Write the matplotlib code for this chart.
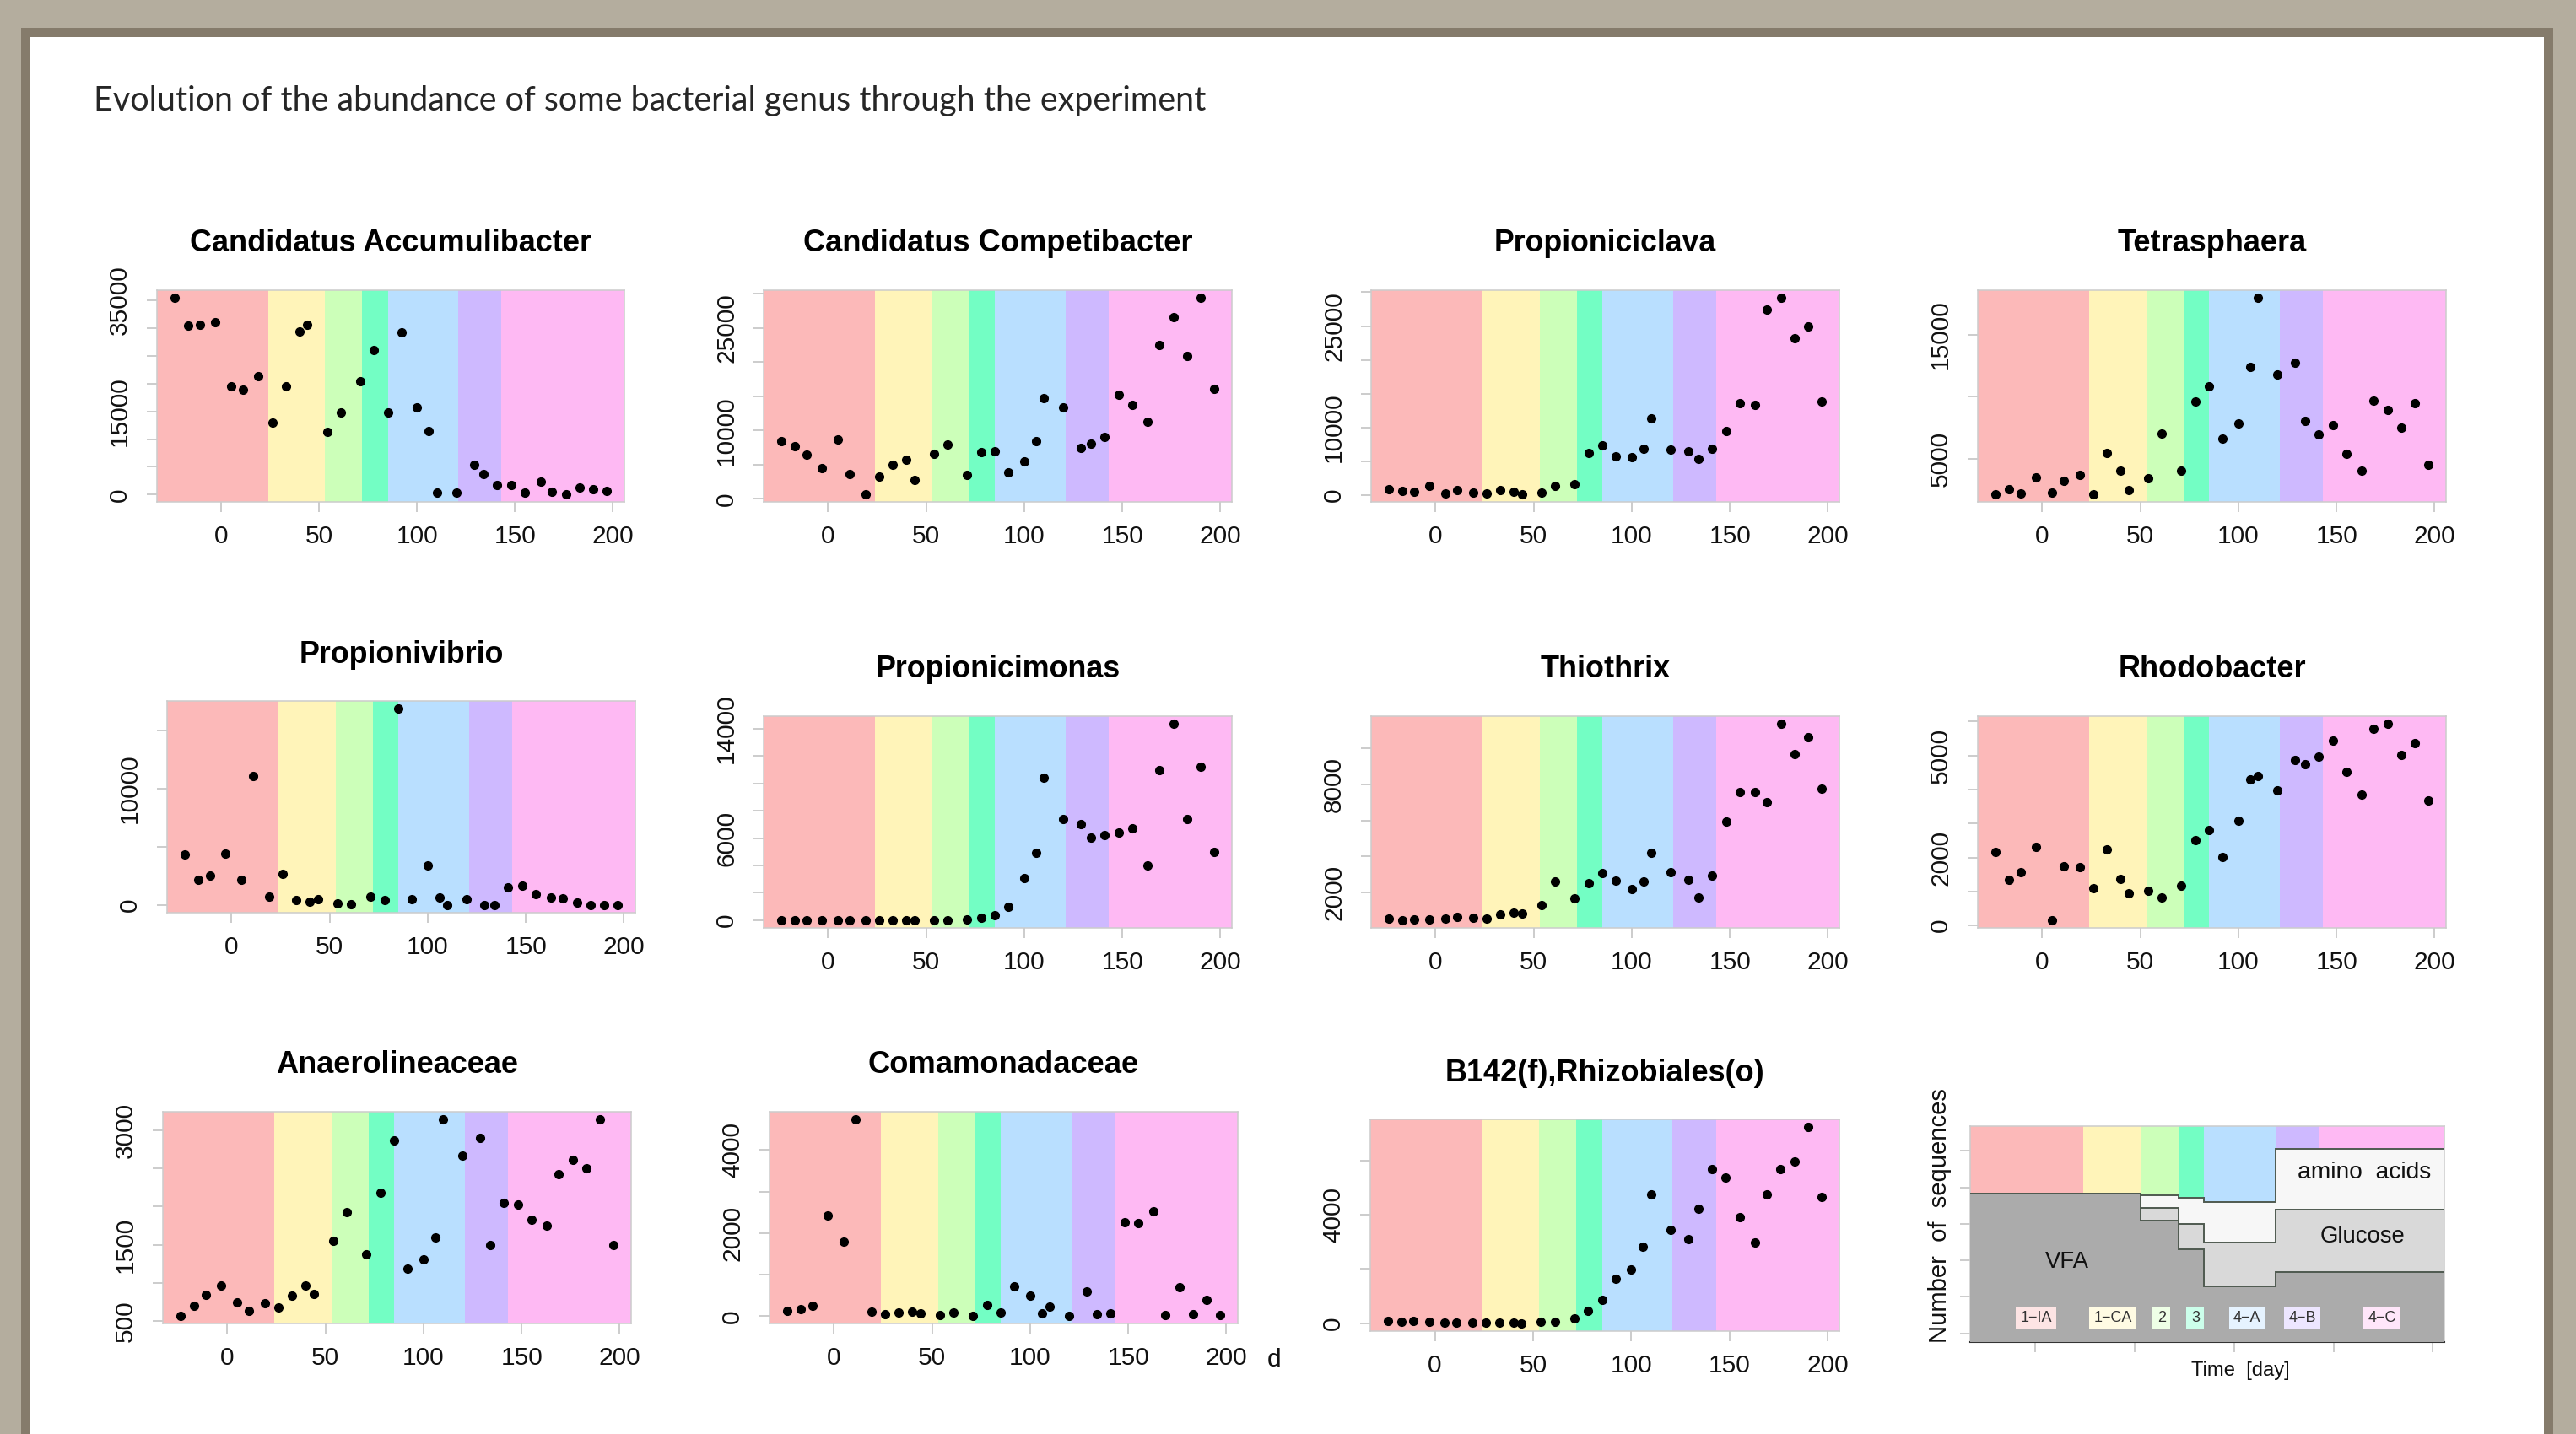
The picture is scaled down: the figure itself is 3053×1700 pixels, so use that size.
import numpy as np
import matplotlib
matplotlib.use('Agg')
import matplotlib.pyplot as plt
from matplotlib.patches import Rectangle

W, H = 3053, 1700

# sampling days (same for every genus)
days = [-24, -17, -11, -3, 5, 11, 19, 26, 33, 40, 44, 54, 61, 71, 78, 85,
        92, 100, 106, 110, 120, 129, 134, 141, 148, 155, 163, 169, 176, 183, 190, 197]

# experimental phases
phase_bounds = [24, 53, 72, 85, 121, 143]
phase_names = ['1\u2212IA', '1\u2212CA', '2', '3', '4\u2212A', '4\u2212B', '4\u2212C']
phase_colors = ['#FCB9B9', '#FFF4B9', '#CCFFB9', '#73FEC4', '#B9DFFF', '#CEB9FF', '#FEB9F3']
phase_label_colors = ['#FDE4E4', '#FFFBE3', '#EEFFE6', '#CCFFEB', '#E6F3FF', '#EDE6FF', '#FFE6FA']
phase_label_x = [0.4, 39, 63.5, 80.5, 106.6, 134.3, 174.4]

# number of sequences per genus
accumulibacter = [35400, 30430, 30640, 31100, 19530, 18920, 21300, 13040, 19430, 29420, 30540,
                  11310, 14860, 20440, 26020, 14810, 29170, 15720, 11460, 350, 350, 5330, 3650,
                  1780, 1780, 350, 2280, 460, 100, 1270, 910, 660]
competibacter = [8440, 7700, 6500, 4530, 8640, 3620, 700, 3290, 4940, 5680, 2760, 6580, 7980,
                 3460, 6790, 6950, 3830, 5510, 8440, 14730, 13330, 7410, 8020, 9050, 15190,
                 13700, 11280, 22470, 26540, 20910, 29380, 16090]
propioniciclava = [910, 620, 540, 1410, 250, 790, 370, 250, 750, 540, 170, 370, 1410, 1660,
                   6230, 7400, 5740, 5650, 6900, 11350, 6770, 6530, 5400, 6900, 9520, 13550,
                   13380, 27430, 29140, 23150, 24900, 13880]
tetrasphaera = [2140, 2550, 2200, 3450, 2230, 3180, 3660, 2140, 5430, 4050, 2430, 3430, 7020,
                4000, 9640, 10820, 6610, 7860, 12390, 17980, 11800, 12730, 8020, 6980, 7730,
                5360, 4020, 9680, 8950, 7520, 9450, 4480]
propionivibrio = [4310, 2150, 2540, 4400, 2180, 11050, 730, 2660, 440, 310, 510, 150, 30, 730,
                  440, 16840, 530, 3410, 630, 20, 460, 20, 20, 1500, 1640, 900, 630, 560, 190,
                  20, 10, 20]
propionicimonas = [0, 0, 0, 0, 0, 0, 0, 0, 0, 0, 0, 0, 10, 60, 160, 350, 970, 3090, 4930,
                   10390, 7420, 7010, 6060, 6210, 6410, 6740, 3980, 10970, 14350, 7420, 11240, 4970]
thiothrix = [570, 490, 520, 520, 570, 650, 620, 580, 820, 900, 850, 1300, 2610, 1690, 2530,
             3090, 2670, 2190, 2610, 4220, 3140, 2700, 1720, 2940, 5940, 7550, 7580, 7010,
             11330, 9660, 10610, 7750]
rhodobacter = [2160, 1350, 1560, 2320, 160, 1740, 1720, 1100, 2230, 1380, 950, 1010, 830, 1170,
               2510, 2800, 2020, 3090, 4300, 4410, 3980, 4870, 4750, 4970, 5440, 4520, 3840,
               5800, 5930, 5010, 5370, 3680]
anaerolineaceae = [567, 696, 840, 959, 740, 633, 726, 674, 825, 966, 851, 1554, 1931, 1373,
                   2186, 2870, 1180, 1306, 1591, 3144, 2671, 2904, 1491, 2053, 2027, 1824, 1750,
                   2427, 2619, 2501, 3144, 1499]
comamonadaceae = [129, 169, 257, 2417, 1787, 4733, 102, 41, 88, 115, 74, 34, 88, 14, 264, 81,
                  711, 487, 68, 223, 14, 596, 54, 61, 2261, 2234, 2519, 27, 691, 41, 399, 34]
b142 = [73, 52, 73, 42, 21, 21, 31, 10, 21, 31, 0, 42, 42, 176, 467, 851, 1630, 1993, 2833,
        4743, 3456, 3093, 4224, 5698, 5387, 3913, 2989, 4743, 5698, 5958, 7234, 4660]

# substrate composition (schematic panel)
substrate_changes = [53, 72, 85, 121]
vfa_level = [3.84, 3.09, 2.30, 1.28, 1.69]
glucose_level = [3.84, 3.43, 2.99, 2.48, 3.38]
amino_level = [3.84, 3.79, 3.72, 3.61, 5.06]

# (title, values, y ticks, labelled y ticks)
panels = [
    ("Candidatus Accumulibacter", accumulibacter, range(0, 35001, 5000), [0, 15000, 35000]),
    ("Candidatus Competibacter", competibacter, range(0, 30001, 5000), [0, 10000, 25000]),
    ("Propioniciclava", propioniciclava, range(0, 30001, 5000), [0, 10000, 25000]),
    ("Tetrasphaera", tetrasphaera, range(5000, 15001, 5000), [5000, 15000]),
    ("Propionivibrio", propionivibrio, range(0, 15001, 5000), [0, 10000]),
    ("Propionicimonas", propionicimonas, range(0, 14001, 2000), [0, 6000, 14000]),
    ("Thiothrix", thiothrix, range(2000, 10001, 2000), [2000, 8000]),
    ("Rhodobacter", rhodobacter, range(0, 6001, 1000), [0, 2000, 5000]),
    ("Anaerolineaceae", anaerolineaceae, range(500, 3001, 500), [500, 1500, 3000]),
    ("Comamonadaceae", comamonadaceae, range(0, 4001, 1000), [0, 2000, 4000]),
    ("B142(f),Rhizobiales(o)", b142, range(0, 6001, 2000), [0, 4000]),
]

# layout in pixels: axes box (x0, y0, x1, y1), title centre y, title width
boxes = [(186, 344, 740, 595), (905, 344, 1460, 595), (1625, 344, 2180, 595), (2344, 344, 2899, 595),
         (198, 831, 753, 1082), (905, 849, 1460, 1100), (1625, 849, 2180, 1100), (2344, 849, 2899, 1100),
         (193, 1318, 748, 1569), (912, 1318, 1467, 1569), (1624, 1327, 2180, 1578)]
title_y = [289, 289, 289, 289, 777, 793, 793, 793, 1263, 1263, 1273]
title_w = [477, 461, 263, 224, 243, 291, 154, 223, 287, 321, 379]

FONT = 'Liberation Sans'


def fbox(x0, y0, x1, y1):
    return [x0 / W, 1 - y1 / H, (x1 - x0) / W, (y1 - y0) / H]


def rlim(v):
    lo, hi = min(v), max(v)
    r = hi - lo
    return lo - 0.04 * r, hi + 0.04 * r


xlo, xhi = rlim(days)
band_edges = [xlo] + phase_bounds + [xhi]

fig = plt.figure(figsize=(W / 100, H / 100), dpi=100)
fig.patch.set_facecolor('#B4AD9E')
fig.patches.append(Rectangle((25 / W, 0), (3026 - 25) / W, 1 - 33 / H, transform=fig.transFigure,
                             fc='#857B6B', ec='none', zorder=-3))
fig.patches.append(Rectangle((35 / W, 0), (3015 - 35) / W, 1 - 44 / H, transform=fig.transFigure,
                             fc='white', ec='none', zorder=-2))

renderer = fig.canvas.get_renderer()


def fit(txt, target, vertical=False):
    bb = txt.get_window_extent(renderer)
    size = bb.height if vertical else bb.width
    txt.set_fontsize(txt.get_fontsize() * target / size)


def style_axes(ax):
    for s in ax.spines.values():
        s.set_color('#CCCCCC')
        s.set_linewidth(1.1)
    ax.tick_params(color='#C8C8C8', width=1.3, length=8.5, labelcolor='#111111')
    ax.set_xlim(xlo, xhi)
    for i, c in enumerate(phase_colors):
        ax.axvspan(band_edges[i], band_edges[i + 1], color=c, lw=0, zorder=0)


t = fig.text(111 / W, 1 - 119 / H,
             "Evolution of the abundance of some bacterial genus through the experiment",
             ha='left', va='center', fontfamily='Lato', fontsize=24, color='#262626')
fit(t, 1322)

for (name, vals, yt, shown), b, ty, tw in zip(panels, boxes, title_y, title_w):
    ax = fig.add_axes(fbox(*b))
    style_axes(ax)
    ax.plot(days, vals, ls='none', marker='o', ms=7, color='black', zorder=3)
    ax.set_ylim(*rlim(vals))
    ax.set_xticks([0, 50, 100, 150, 200])
    ax.set_xticklabels(['0', '50', '100', '150', '200'], fontfamily=FONT, fontsize=21.5)
    ax.set_yticks(list(yt))
    ax.set_yticklabels([str(v) if v in shown else '' for v in yt], rotation=90, va='center',
                       fontfamily=FONT, fontsize=21.5)
    ax.tick_params(axis='x', pad=11)
    ax.tick_params(axis='y', pad=13)
    t = fig.text((b[0] + b[2]) / 2 / W, 1 - ty / H, name, ha='center', va='center',
                 fontfamily=FONT, fontweight='bold', fontsize=26, color='black')
    fit(t, tw)

fig.text(1510 / W, 1 - 1612 / H, 'd', ha='center', va='center', fontfamily=FONT,
         fontsize=21.5, color='#111111')

# substrate legend panel
ax = fig.add_axes(fbox(2335, 1335, 2897, 1591))
style_axes(ax)
ybot = -0.24
sub_edges = [xlo] + substrate_changes + [xhi]
ax.stairs(amino_level, sub_edges, baseline=ybot, fill=True, color='#F7F7F7', zorder=1)
ax.stairs(glucose_level, sub_edges, baseline=ybot, fill=True, color='#D9D9D9', zorder=2)
ax.stairs(vfa_level, sub_edges, baseline=ybot, fill=True, color='#ABABAB', zorder=3)
for lv in (amino_level, glucose_level, vfa_level):
    ax.stairs(lv, sub_edges, baseline=None, color='#4F5A50', lw=1.4, zorder=4)
ax.set_ylim(ybot, 5.68)
ax.set_xticks([0, 50, 100, 150, 200])
ax.set_yticks(range(6))
ax.tick_params(labelleft=False, labelbottom=False)
ax.spines['bottom'].set_color('#333333')
ax.spines['bottom'].set_linewidth(1.5)

for name, x, lc in zip(phase_names, phase_label_x, phase_label_colors):
    ax.text(x, 0.42, name, ha='center', va='center', fontfamily=FONT, fontsize=13,
            color='#333333', zorder=6,
            bbox=dict(boxstyle='square,pad=0.3', fc=lc, ec='none'))

for txt, x, y, w in [('VFA', 16, 1.95, 52), ('Glucose', 164.5, 2.65, 101),
                     ('amino  acids', 165.4, 4.41, 158)]:
    t = ax.text(x, y, txt, ha='center', va='center', fontfamily=FONT, fontsize=20,
                color='#111111', zorder=6)
    fit(t, w)

t = fig.text(2299 / W, 1 - 1441 / H, 'Number  of  sequences', rotation=90, ha='center',
             va='center', fontfamily=FONT, fontsize=20, color='#111111')
fit(t, 302, vertical=True)
t = fig.text(2655 / W, 1 - 1625 / H, 'Time  [day]', ha='center', va='center',
             fontfamily=FONT, fontsize=17, color='#111111')
fit(t, 117)

fig.savefig('out.png', dpi=100, facecolor=fig.get_facecolor())
